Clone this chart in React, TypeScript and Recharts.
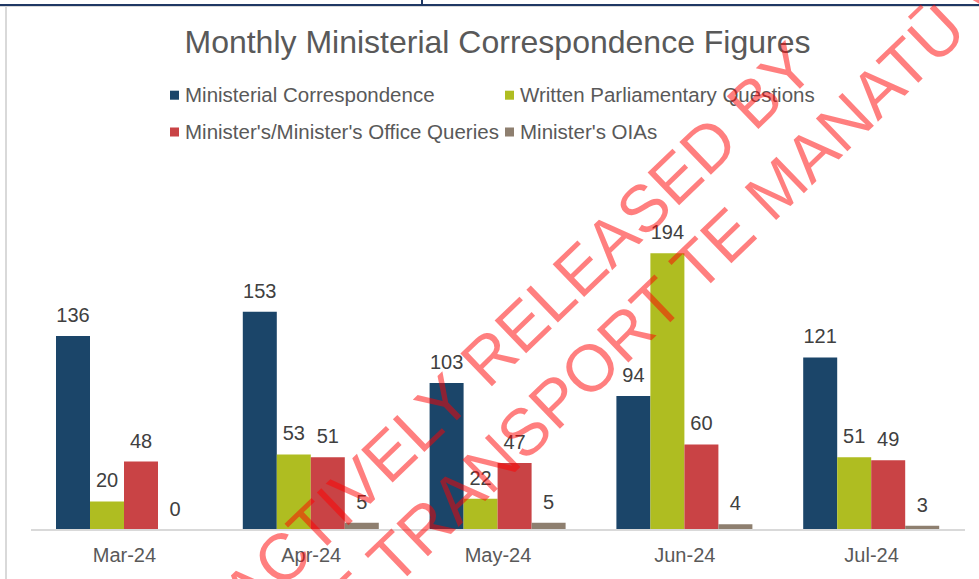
import React from "react";
import { Bar, BarChart, LabelList, Legend, XAxis, YAxis } from "recharts";

const W = 979;
const H = 579;
const FONT = '"Liberation Sans", Arial, sans-serif';

const months = ["Mar-24", "Apr-24", "May-24", "Jun-24", "Jul-24"];
const ministerialCorrespondence = [136, 153, 103, 94, 121];
const writtenQuestions = [20, 53, 22, 194, 51];
const officeQueries = [48, 51, 47, 60, 49];
const ministerOias = [0, 5, 5, 4, 3];

const series = [
  { key: "mc", name: "Ministerial Correspondence", color: "#1b4569" },
  { key: "wpq", name: "Written Parliamentary Questions", color: "#afbd21" },
  { key: "moq", name: "Minister's/Minister's Office Queries", color: "#c94345" },
  { key: "oia", name: "Minister's OIAs", color: "#8e7f6f" },
];

const data = months.map((month, i) => ({
  month,
  mc: ministerialCorrespondence[i],
  wpq: writtenQuestions[i],
  moq: officeQueries[i],
  oia: ministerOias[i],
}));

// legend grid: 2 columns x 2 rows
const legendCols = [170, 505];
const legendRows = [101.7, 138.5];

const renderLegend = () => (
  <svg width={W} height={150} style={{ display: "block" }}>
    {series.map((s, i) => {
      const x = legendCols[i % 2];
      const y = legendRows[Math.floor(i / 2)];
      return (
        <g key={s.key}>
          <rect x={x} y={y - 11} width={9} height={9} fill={s.color} />
          <text x={x + 15} y={y} fontSize={20.5} fill="#595959" fontFamily={FONT}>
            {s.name}
          </text>
        </g>
      );
    })}
  </svg>
);

// watermark stamp (rotated text)
const WM_ANGLE = -44;
const WM_SIZE = 66;
const watermark = [
  { text: "PROACTIVELY", x: 475, y: 403, anchor: "end" },
  { text: "RELEASED BY", x: 488, y: 390, anchor: "start" },
  { text: "MINISTRY OF", x: 382, y: 601, anchor: "end" },
  { text: "TRANSPORT TE MANATŪ WAKA", x: 395, y: 588, anchor: "start" },
];

const App = () => {
  return (
    <div
      style={{
        position: "absolute",
        left: 0,
        top: 0,
        width: W,
        height: H,
        background: "#ffffff",
        overflow: "hidden",
        fontFamily: FONT,
      }}
    >
      <svg width={W} height={H} style={{ position: "absolute", left: 0, top: 0 }}>
        <rect x={0} y={6} width={W} height={1} fill="#d9d9d9" />
        <rect x={5} y={6} width={2} height={H} fill="#d9d9d9" />
        <rect x={0} y={4} width={W} height={2} fill="#1f3864" />
        <rect x={421} y={0} width={2} height={5} fill="#1f3864" />
        <text x={497.5} y={53} textAnchor="middle" fontSize={32} fill="#595959" fontFamily={FONT}>
          Monthly Ministerial Correspondence Figures
        </text>
      </svg>
      <div style={{ position: "absolute", left: 0, top: 0 }}>
        <BarChart
          width={W}
          height={H}
          data={data}
          margin={{ top: 173.5, right: 14, bottom: 0, left: 31 }}
          barGap={0}
          barSize={34}
        >
          <XAxis
            dataKey="month"
            height={49}
            tickLine={false}
            tickSize={0}
            tickMargin={17.5}
            axisLine={{ stroke: "#d9d9d9", strokeWidth: 2 }}
            tick={{ fill: "#595959", fontSize: 20, fontFamily: FONT }}
          />
          <YAxis hide domain={[0, 250]} />
          <Legend
            layout="horizontal"
            verticalAlign="middle"
            align="center"
            wrapperStyle={{ top: 0, left: 0, width: W, height: 150 }}
            content={renderLegend}
          />
          {series.map((s) => (
            <Bar
              key={s.key}
              dataKey={s.key}
              name={s.name}
              fill={s.color}
              minPointSize={0.01}
              isAnimationActive={false}
            >
              <LabelList
                dataKey={s.key}
                position="top"
                offset={14}
                fill="#404040"
                fontSize={20}
                fontFamily={FONT}
              />
            </Bar>
          ))}
        </BarChart>
      </div>
      <svg
        width={W}
        height={H}
        style={{ position: "absolute", left: 0, top: 0, pointerEvents: "none" }}
      >
        {watermark.map((w) => (
          <text
            key={w.text}
            x={w.x}
            y={w.y}
            textAnchor={w.anchor}
            fontSize={WM_SIZE}
            fontFamily={FONT}
            fill="rgba(255,0,0,0.5)"
            transform={`rotate(${WM_ANGLE} ${w.x} ${w.y})`}
          >
            {w.text}
          </text>
        ))}
      </svg>
    </div>
  );
};

export default App;
